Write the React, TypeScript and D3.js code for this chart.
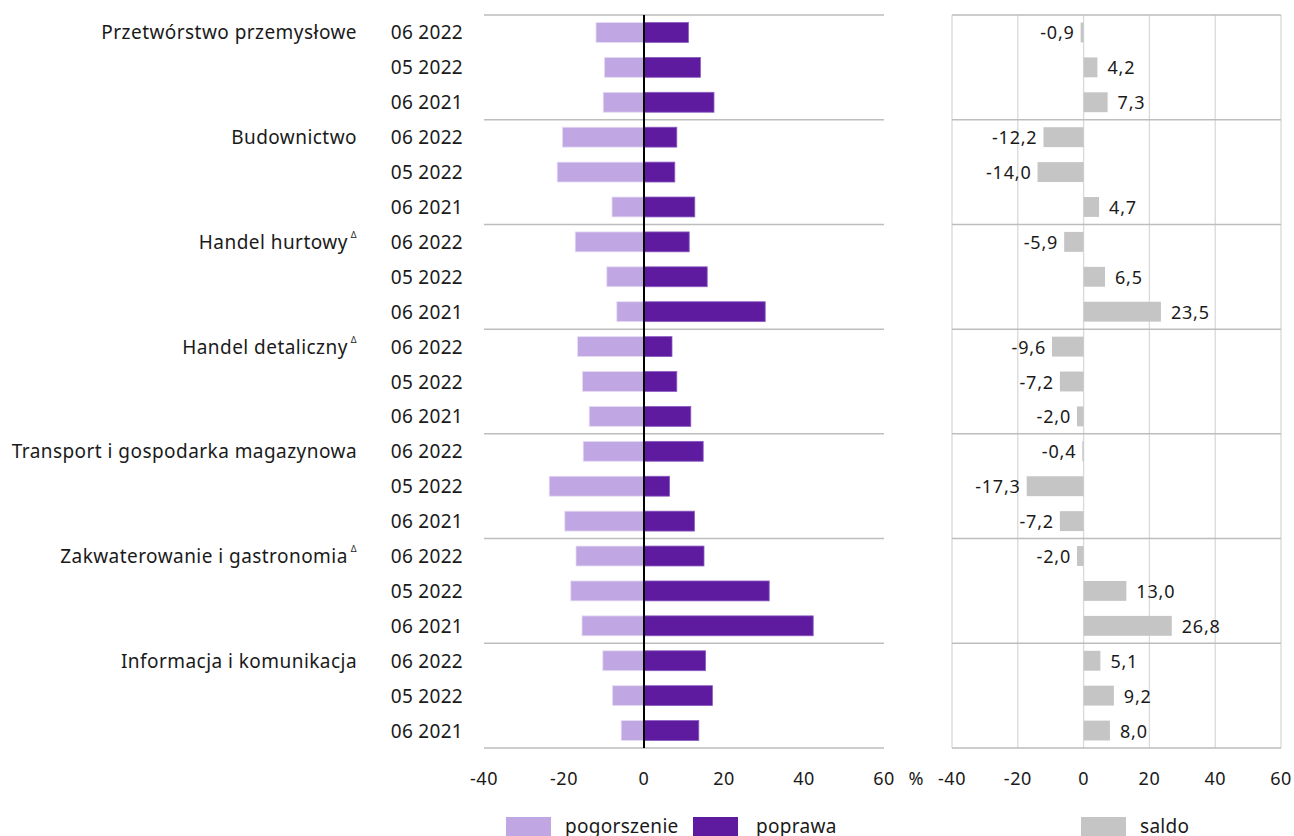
import React from "react";
import * as d3 from "d3";

const sectors = [
  "Przetwórstwo przemysłowe",
  "Budownictwo",
  "Handel hurtowy",
  "Handel detaliczny",
  "Transport i gospodarka magazynowa",
  "Zakwaterowanie i gastronomia",
  "Informacja i komunikacja",
];
const sectorMark = [false, false, true, true, false, true, false];
const periods = ["06 2022", "05 2022", "06 2021"];

const pogorszenie = [
  12.0, 9.9, 10.2,
  20.4, 21.7, 8.0,
  17.2, 9.3, 6.8,
  16.6, 15.4, 13.7,
  15.2, 23.7, 19.8,
  17.0, 18.3, 15.5,
  10.3, 7.9, 5.7,
];
const poprawa = [
  11.1, 14.1, 17.5,
  8.2, 7.7, 12.7,
  11.3, 15.8, 30.3,
  7.0, 8.2, 11.7,
  14.8, 6.4, 12.6,
  15.0, 31.3, 42.3,
  15.4, 17.1, 13.7,
];
const saldo = [
  -0.9, 4.2, 7.3,
  -12.2, -14.0, 4.7,
  -5.9, 6.5, 23.5,
  -9.6, -7.2, -2.0,
  -0.4, -17.3, -7.2,
  -2.0, 13.0, 26.8,
  5.1, 9.2, 8.0,
];
const xTicks = [-40, -20, 0, 20, 40, 60];

const C_POG = "#c0a7e3";
const C_POP = "#5e1ba0";
const C_SAL = "#c4c5c4";
const FONT = "'Noto Sans', sans-serif";
const TXT = "#1a1a1a";

export default function App() {
  const W = 1294;
  const H = 836;
  const rows = d3.range(sectors.length * periods.length);
  const y = d3.scaleBand<number>().domain(rows).range([15, 748]).paddingInner(0.43).paddingOuter(0.215);
  const xL = d3.scaleLinear().domain([-40, 60]).range([484, 884]);
  const xR = d3.scaleLinear().domain([-40, 60]).range([952, 1281]);
  const top = 15;
  const bottom = 748;
  const groupLines = d3.range(sectors.length + 1).map((g) => top + (g * (bottom - top)) / sectors.length);
  const fmt = (v: number) => v.toFixed(1).replace(".", ",");
  const bw = y.bandwidth();

  return (
    <svg width={W} height={H} style={{ position: "absolute", left: 0, top: 0 }} fontFamily={FONT}>
      <rect width={W} height={H} fill="#fff" />
      {groupLines.map((gy, i) => (
        <line key={"gl" + i} x1={xL(-40)} x2={xL(60)} y1={gy} y2={gy} stroke="#bdbdbd" strokeWidth={1.5} />
      ))}
      {xTicks.map((t) => (
        <line key={"vr" + t} x1={xR(t)} x2={xR(t)} y1={top} y2={bottom} stroke="#d9d9d9" strokeWidth={1.3} />
      ))}
      {groupLines.map((gy, i) => (
        <line key={"gr" + i} x1={xR(-40)} x2={xR(60)} y1={gy} y2={gy} stroke="#bdbdbd" strokeWidth={1.5} />
      ))}
      {rows.map((i) => (
        <g key={"b" + i}>
          <rect x={xL(-pogorszenie[i])} y={y(i)} width={xL(0) - xL(-pogorszenie[i])} height={bw} fill={C_POG} stroke="#e6dcf3" strokeWidth={0.8} />
          <rect x={xL(0)} y={y(i)} width={xL(poprawa[i]) - xL(0)} height={bw} fill={C_POP} stroke="#8a5cc0" strokeWidth={0.8} />
        </g>
      ))}
      <line x1={xL(0)} x2={xL(0)} y1={top} y2={bottom} stroke="#000" strokeWidth={2} />
      {rows.map((i) => {
        const v = saldo[i];
        const x0 = Math.min(xR(0), xR(v));
        const w = Math.abs(xR(v) - xR(0));
        const cy = (y(i) as number) + bw / 2;
        return (
          <g key={"s" + i}>
            <rect x={x0} y={y(i)} width={w} height={bw} fill={C_SAL} />
            <text
              x={v < 0 ? xR(v) - 6 : xR(v) + 10}
              y={cy + 7}
              textAnchor={v < 0 ? "end" : "start"}
              fontSize={18}
              letterSpacing={0.8}
              fill={TXT}
            >
              {fmt(v)}
            </text>
          </g>
        );
      })}
      {sectors.map((s, g) => {
        const cy = (y(g * 3) as number) + bw / 2;
        return (
          <text key={"c" + g} x={357} y={cy + 7} textAnchor="end" fontSize={19} letterSpacing={0.45} fill={TXT}>
            {s}
            {sectorMark[g] && (
              <tspan fontSize={9} dy="-11" dx="3">
                Δ
              </tspan>
            )}
          </text>
        );
      })}
      {rows.map((i) => (
        <text key={"p" + i} x={463} y={(y(i) as number) + bw / 2 + 7} textAnchor="end" fontSize={19} letterSpacing={0.3} fill={TXT}>
          {periods[i % 3]}
        </text>
      ))}
      {xTicks.map((t) => (
        <text key={"tl" + t} x={xL(t)} y={785} textAnchor="middle" fontSize={18} letterSpacing={0.5} fill={TXT}>
          {t}
        </text>
      ))}
      <text x={916} y={785} textAnchor="middle" fontSize={18} fill={TXT}>
        %
      </text>
      {xTicks.map((t) => (
        <text key={"tr" + t} x={xR(t)} y={785} textAnchor="middle" fontSize={18} letterSpacing={0.5} fill={TXT}>
          {t}
        </text>
      ))}
      <rect x={506} y={817} width={45} height={22} fill={C_POG} />
      <text x={565} y={833} fontSize={19} letterSpacing={0.3} fill={TXT}>pogorszenie</text>
      <rect x={693} y={817} width={45} height={22} fill={C_POP} />
      <text x={756} y={833} fontSize={19} letterSpacing={0.3} fill={TXT}>poprawa</text>
      <rect x={1081} y={817} width={45} height={22} fill={C_SAL} />
      <text x={1140} y={833} fontSize={19} letterSpacing={0.3} fill={TXT}>saldo</text>
    </svg>
  );
}
